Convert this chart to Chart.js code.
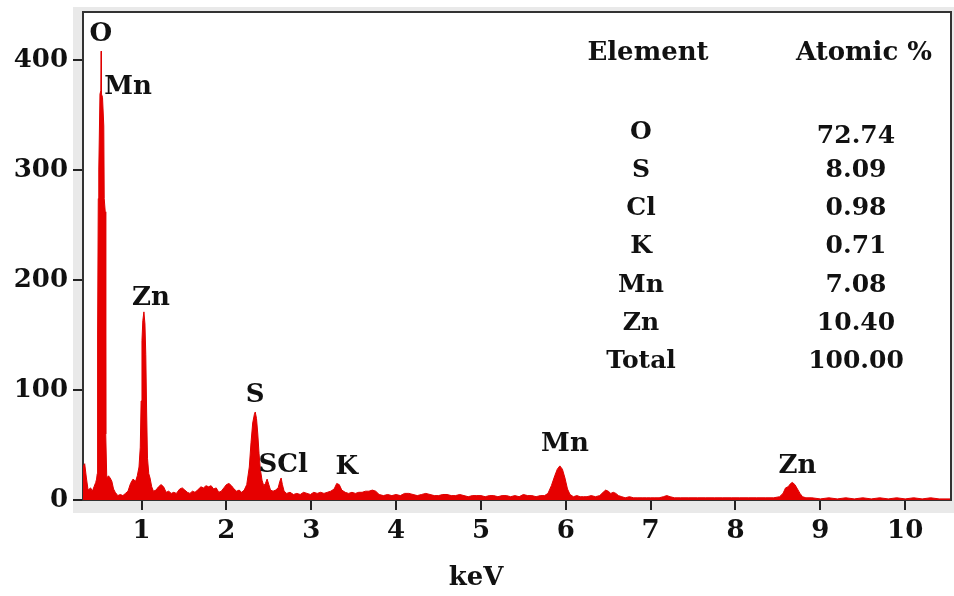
<!DOCTYPE html>
<html>
<head>
<meta charset="utf-8">
<title>EDS spectrum</title>
<script src="https://cdn.jsdelivr.net/npm/chart.js@4.4.1/dist/chart.umd.min.js"></script>
<style>
  html, body { margin: 0; padding: 0; background: #fff; }
  canvas { display: block; }
</style>
</head>
<body>
<canvas id="eds" width="954" height="596"></canvas>
<script>
// spectrum, energy in keV and counts
const energies = [
  0.31, 0.33, 0.35, 0.37, 0.40, 0.42, 0.44, 0.46, 0.47, 0.478,
  0.482, 0.490, 0.496, 0.510, 0.520, 0.524, 0.528, 0.540, 0.555, 0.560,
  0.572, 0.578, 0.59, 0.61, 0.63, 0.65, 0.67, 0.69, 0.72, 0.75,
  0.78, 0.81, 0.84, 0.87, 0.90, 0.93, 0.95, 0.97, 0.985, 0.995,
  1.005, 1.015, 1.028, 1.04, 1.05, 1.06, 1.07, 1.085, 1.10, 1.12,
  1.14, 1.17, 1.20, 1.23, 1.26, 1.29, 1.32, 1.35, 1.38, 1.41,
  1.45, 1.48, 1.51, 1.54, 1.57, 1.60, 1.63, 1.66, 1.70, 1.73,
  1.76, 1.79, 1.82, 1.85, 1.88, 1.91, 1.94, 1.97, 2.00, 2.03,
  2.06, 2.09, 2.12, 2.15, 2.18, 2.21, 2.24, 2.27, 2.29, 2.31,
  2.33, 2.34, 2.355, 2.37, 2.385, 2.40, 2.42, 2.44, 2.46, 2.48,
  2.50, 2.52, 2.55, 2.58, 2.61, 2.63, 2.645, 2.66, 2.68, 2.71,
  2.75, 2.79, 2.83, 2.87, 2.91, 2.95, 2.99, 3.03, 3.07, 3.11,
  3.15, 3.19, 3.23, 3.27, 3.30, 3.33, 3.36, 3.40, 3.44, 3.48,
  3.52, 3.56, 3.60, 3.64, 3.68, 3.72, 3.76, 3.80, 3.85, 3.90,
  3.95, 4.00, 4.05, 4.10, 4.15, 4.20, 4.25, 4.30, 4.35, 4.40,
  4.45, 4.50, 4.55, 4.60, 4.65, 4.70, 4.75, 4.80, 4.85, 4.90,
  4.95, 5.00, 5.05, 5.10, 5.15, 5.20, 5.25, 5.30, 5.35, 5.40,
  5.45, 5.50, 5.55, 5.60, 5.65, 5.70, 5.75, 5.79, 5.83, 5.87,
  5.90, 5.93, 5.96, 5.99, 6.02, 6.05, 6.09, 6.13, 6.17, 6.21,
  6.25, 6.30, 6.35, 6.40, 6.44, 6.47, 6.50, 6.53, 6.56, 6.59,
  6.62, 6.66, 6.70, 6.75, 6.80, 6.85, 6.90, 6.95, 7.00, 7.05,
  7.10, 7.15, 7.19, 7.23, 7.28, 7.35, 7.45, 7.55, 7.65, 7.75,
  7.85, 7.95, 8.05, 8.15, 8.25, 8.35, 8.45, 8.52, 8.56, 8.59,
  8.62, 8.65, 8.67, 8.70, 8.73, 8.76, 8.79, 8.83, 8.90, 9.00,
  9.10, 9.20, 9.30, 9.40, 9.50, 9.60, 9.70, 9.80, 9.90, 10.00,
  10.10, 10.20, 10.30, 10.40, 10.54
];
const counts = [
  30, 33, 20, 9, 11, 8, 12, 16, 19, 24,
  150, 274, 300, 369, 372, 408, 369, 366, 340, 274,
  262, 60, 20, 22, 20, 17, 10, 7, 4, 5,
  4, 6, 8, 15, 19, 17, 22, 30, 48, 90,
  145, 163, 171, 160, 132, 80, 38, 24, 20, 12,
  8, 9, 12, 14, 12, 7, 8, 6, 7, 6,
  10, 11, 9, 7, 6, 8, 7, 9, 12, 11,
  13, 12, 13, 10, 11, 7, 8, 11, 14, 15,
  13, 10, 8, 9, 7, 9, 14, 30, 52, 70,
  78, 80, 74, 60, 42, 28, 18, 13, 15, 19,
  14, 9, 8, 9, 11, 17, 20, 14, 8, 6,
  7, 5, 6, 5, 7, 6, 5, 7, 6, 7,
  6, 7, 8, 10, 15, 14, 9, 7, 6, 7,
  6, 7, 7, 8, 8, 9, 8, 5, 4, 5,
  4, 5, 4, 6, 6, 5, 4, 5, 6, 5,
  4, 4, 5, 5, 4, 4, 5, 4, 3, 4,
  4, 4, 3, 4, 4, 3, 4, 4, 3, 4,
  3, 5, 4, 4, 3, 4, 4, 6, 13, 22,
  28, 31, 28, 20, 10, 5, 3, 4, 3, 3,
  3, 4, 3, 4, 7, 9, 8, 6, 7, 6,
  4, 3, 2, 3, 2, 2, 2, 2, 2, 2,
  2, 3, 4, 3, 2, 2, 2, 2, 2, 2,
  2, 2, 2, 2, 2, 2, 2, 3, 6, 11,
  12, 15, 16, 14, 10, 6, 3, 2, 2, 1,
  2, 1, 2, 1, 2, 1, 2, 1, 2, 1,
  2, 1, 2, 1, 1
];

const xTicks = [1, 2, 3, 4, 5, 6, 7, 8, 9, 10];
const yTicks = [0, 100, 200, 300, 400];

// element lines marked on the spectrum (label anchor in keV / counts)
const peakNames = ['O', 'Mn', 'Zn', 'S', 'SCl', 'K', 'Mn', 'Zn'];
const peakKev = [0.52, 0.84, 1.11, 2.34, 2.67, 3.42, 5.99, 8.73];
const peakCounts = [423, 375, 183, 95, 32, 30, 51, 31];

// quantification table
const tableElements = ['O', 'S', 'Cl', 'K', 'Mn', 'Zn', 'Total'];
const tableAtomic = ['72.74', '8.09', '0.98', '0.71', '7.08', '10.40', '100.00'];

const serif = '"DejaVu Serif", "Liberation Serif", serif';

const framePlugin = {
  id: 'frame',
  beforeDraw(chart) {
    const { ctx, chartArea: a } = chart;
    ctx.save();
    ctx.fillStyle = '#e9e9e9';
    ctx.fillRect(a.left - 10, a.top - 5, chart.width - a.left + 10, a.bottom - a.top + 18);
    ctx.fillStyle = '#fff';
    ctx.fillRect(a.left, a.top, a.right - a.left, a.bottom - a.top);
    ctx.restore();
  },
  afterDatasetsDraw(chart) {
    const { ctx, chartArea: a } = chart;
    ctx.save();
    ctx.strokeStyle = '#333';
    ctx.lineWidth = 2;
    ctx.beginPath();
    ctx.moveTo(a.left, a.top);
    ctx.lineTo(a.right, a.top);
    ctx.lineTo(a.right, a.bottom);
    ctx.stroke();
    ctx.restore();
  },
  afterDraw(chart) {
    const { ctx, scales } = chart;
    ctx.save();
    ctx.fillStyle = '#111';
    ctx.textAlign = 'center';
    ctx.textBaseline = 'middle';

    ctx.font = 'bold 26px ' + serif;
    peakNames.forEach((name, i) => {
      ctx.fillText(name, scales.x.getPixelForValue(peakKev[i]), scales.y.getPixelForValue(peakCounts[i]));
    });

    // axis title
    ctx.fillText('keV', 476, 578);

    // table
    ctx.fillText('Element', 648, 53);
    ctx.fillText('Atomic %', 864, 53);
    ctx.font = 'bold 25px ' + serif;
    tableElements.forEach((el, i) => {
      const y = 132 + i * 38.3;
      ctx.fillText(el, 641, y);
      ctx.fillText(tableAtomic[i], 856, y + (i === 0 ? 4 : 0));
    });
    ctx.restore();
  }
};

const spectrum = energies.map((e, i) => ({ x: e, y: counts[i] }));

new Chart(document.getElementById('eds'), {
  type: 'line',
  data: {
    datasets: [{
      data: spectrum,
      borderColor: '#e00000',
      backgroundColor: '#e60000',
      borderWidth: 1,
      pointRadius: 0,
      tension: 0,
      fill: 'origin'
    }]
  },
  options: {
    responsive: false,
    animation: false,
    devicePixelRatio: 1,
    layout: { padding: { top: 12, right: 3, left: 0, bottom: 0 } },
    plugins: { legend: { display: false }, tooltip: { enabled: false } },
    scales: {
      x: {
        type: 'linear',
        min: 0.31,
        max: 10.54,
        afterBuildTicks: s => { s.ticks = xTicks.map(v => ({ value: v })); },
        afterFit: s => { s.height = 96; s.paddingLeft = 0; s.paddingRight = 0; },
        ticks: {
          color: '#111',
          padding: 6,
          font: { family: serif, size: 26, weight: 'bold' }
        },
        grid: { drawOnChartArea: false, tickLength: 10, color: '#222', lineWidth: 2 },
        border: { color: '#333', width: 2 }
      },
      y: {
        min: 0,
        max: 443.6,
        afterBuildTicks: s => { s.ticks = yTicks.map(v => ({ value: v })); },
        afterFit: s => { s.width = 83; s.paddingTop = 0; s.paddingBottom = 0; },
        ticks: {
          color: '#111',
          padding: 5,
          font: { family: serif, size: 26, weight: 'bold' }
        },
        grid: { drawOnChartArea: false, tickLength: 10, color: '#222', lineWidth: 2 },
        border: { color: '#333', width: 2 }
      }
    }
  },
  plugins: [framePlugin]
});
</script>
</body>
</html>
